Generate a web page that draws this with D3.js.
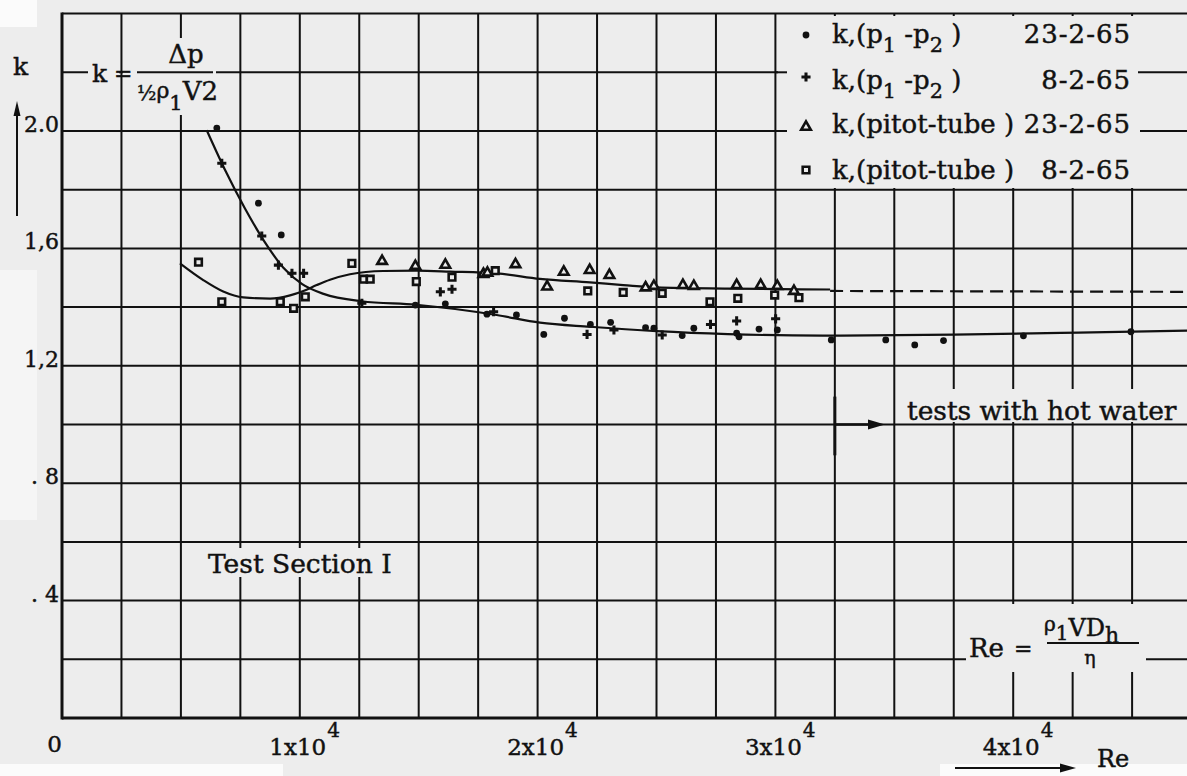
<!DOCTYPE html>
<html><head><meta charset="utf-8">
<script src="https://cdn.jsdelivr.net/npm/d3@7"></script>
<style>
html,body{margin:0;padding:0;background:#ededed;}
svg{display:block;font-family:"DejaVu Serif",serif;}
</style></head><body>
<svg id="chart" width="1187" height="776"></svg>
<script>
// axis ticks
const reTicks = [0, 10000, 20000, 30000, 40000];
const reTickLabels = ['0', '1x10', '2x10', '3x10', '4x10'];
const kTicks = [0.4, 0.8, 1.2, 1.6, 2.0];
const kTickLabels = ['. 4', '. 8', '1,2', '1,6', '2.0'];

// k,(p1-p2) 23-2-65  (dots)
const dp23 = [
  [6510, 2.01], [8260, 1.754], [9220, 1.646], [14860, 1.407], [16120, 1.411],
  [17870, 1.376], [19110, 1.373], [20260, 1.307], [21130, 1.362], [22220, 1.341],
  [23070, 1.348], [24540, 1.330], [24890, 1.328], [26080, 1.303], [26570, 1.328],
  [28370, 1.311], [28470, 1.299], [29310, 1.325], [30080, 1.322],
  [32350, 1.288], [34640, 1.288], [35860, 1.271], [37070, 1.286], [40430, 1.302], [44950, 1.316]
];
// k,(p1-p2) 8-2-65  (plus)
const dp08 = [
  [6720, 1.89], [8400, 1.642], [9100, 1.543], [9670, 1.515], [10160, 1.515],
  [12610, 1.413], [15910, 1.452], [16400, 1.461], [18150, 1.384], [22080, 1.307],
  [23210, 1.322], [25240, 1.305], [27270, 1.341], [28370, 1.353], [30010, 1.36]
];
// k,(pitot-tube) 23-2-65  (triangles)
const pt23 = [
  [13460, 1.560], [14860, 1.543], [16120, 1.547], [17720, 1.516], [17890, 1.52],
  [19070, 1.549], [20400, 1.473], [21100, 1.523], [22190, 1.529], [23020, 1.512],
  [24540, 1.470], [24890, 1.475], [26110, 1.478], [26570, 1.475], [28370, 1.478],
  [29380, 1.478], [30080, 1.475], [30780, 1.458]
];
// k,(pitot-tube) 8-2-65  (squares)
const pt08 = [
  [5740, 1.553], [6720, 1.418], [9180, 1.418], [9740, 1.396], [10230, 1.435],
  [12190, 1.549], [12680, 1.495], [12960, 1.495], [14900, 1.487], [16400, 1.502],
  [18220, 1.524], [22110, 1.455], [23600, 1.450], [25240, 1.447], [27250, 1.418],
  [28420, 1.430], [29970, 1.441], [30990, 1.432]
];

// hand-drawn fit curves
const fitDp = [
  [6085, 2.003], [6900, 1.860], [7700, 1.735], [8500, 1.625], [9300, 1.535],
  [10100, 1.478], [11000, 1.445], [12600, 1.420], [14900, 1.408], [18280, 1.373],
  [20100, 1.347], [22200, 1.333], [25010, 1.318], [28000, 1.308], [32000, 1.303],
  [37500, 1.306], [42000, 1.312], [47500, 1.320]
];
const fitPitot = [
  [4960, 1.549], [5940, 1.492], [6780, 1.453], [7620, 1.433], [8750, 1.429],
  [9590, 1.440], [10150, 1.455], [10710, 1.475], [11270, 1.493], [12110, 1.512],
  [13510, 1.523], [14915, 1.524], [16320, 1.521], [18280, 1.515], [20100, 1.496],
  [22200, 1.484], [23600, 1.475], [25010, 1.467], [28000, 1.463], [32300, 1.460]
];
const fitPitotExt = [[32300, 1.455], [47500, 1.452]];

const legendLabels = [
  [['k,(p'], ['1', 9], [' -p'], ['2', 9], [' )']],
  [['k,(p'], ['1', 9], [' -p'], ['2', 9], [' )']],
  [['k,(pitot-tube )']],
  [['k,(pitot-tube )']]
];
const legendDates = ['23-2-65', '8-2-65', '23-2-65', '8-2-65'];
const legendSymbols = ['dot', 'plus', 'tri', 'sq'];

const BG = '#ededed', INK = '#111';
const svg = d3.select('#chart');
const x = d3.scaleLinear().domain([0, 47500]).range([62, 62 + 47500 * 0.02378]);
const y = d3.scaleLinear().domain([0, 2.4]).range([718, 13.6]);

svg.append('rect').attr('width', 1187).attr('height', 776).attr('fill', BG);
// paper patches of the scan
[[0, 0, 37, 27, '#fbfbfb'], [0, 270, 37, 250, '#f5f5f5'], [0, 764, 283, 12, '#fbfbfb'], [940, 764, 247, 12, '#fbfbfb']]
  .forEach(r => svg.append('rect').attr('x', r[0]).attr('y', r[1]).attr('width', r[2]).attr('height', r[3]).attr('fill', r[4]));

const grid = svg.append('g').attr('stroke', INK).attr('stroke-width', 2);
d3.range(2500, 47501, 2500).forEach(v => grid.append('line')
  .attr('x1', x(v)).attr('x2', x(v)).attr('y1', y(2.4)).attr('y2', y(0)));
d3.range(0.2, 2.41, 0.2).forEach(v => grid.append('line')
  .attr('x1', x(0)).attr('x2', 1187).attr('y1', y(v)).attr('y2', y(v)));
svg.append('line').attr('x1', x(0)).attr('x2', x(0)).attr('y1', y(2.4) - 1).attr('y2', y(0) + 1.5)
  .attr('stroke', INK).attr('stroke-width', 3);
svg.append('line').attr('x1', x(0)).attr('x2', 1187).attr('y1', y(0)).attr('y2', y(0))
  .attr('stroke', INK).attr('stroke-width', 3);

// boxes behind the labels (grid is interrupted there)
const boxes = [[88, 60, 31, 24], [123, 38, 93, 77], [204, 548, 194, 29], [900, 389, 287, 33], [966, 604, 180, 68], [778, 16, 409, 172]];
boxes.forEach(b => svg.append('rect').attr('x', b[0]).attr('y', b[1]).attr('width', b[2]).attr('height', b[3]).attr('fill', BG));
[[2.2, 775, 787], [2.2, 1138, 1187], [2.0, 775, 787], [2.0, 1140, 1187]].forEach(s =>
  svg.append('line').attr('x1', s[1]).attr('x2', s[2]).attr('y1', y(s[0])).attr('y2', y(s[0]))
    .attr('stroke', INK).attr('stroke-width', 2));

// curves
const line = d3.line().x(d => x(d[0])).y(d => y(d[1])).curve(d3.curveMonotoneX);
svg.append('path').attr('d', line(fitDp)).attr('fill', 'none').attr('stroke', INK).attr('stroke-width', 2.2);
svg.append('path').attr('d', line(fitPitot)).attr('fill', 'none').attr('stroke', INK).attr('stroke-width', 2.2);
svg.append('path').attr('d', d3.line().x(d => x(d[0])).y(d => y(d[1]))(fitPitotExt))
  .attr('fill', 'none').attr('stroke', INK).attr('stroke-width', 2.2).attr('stroke-dasharray', '13,7');

// markers
function marker(g, kind, cx, cy) {
  if (kind === 'dot') return g.append('circle').attr('cx', cx).attr('cy', cy).attr('r', 3.4).attr('fill', INK);
  if (kind === 'plus') return g.append('path').attr('transform', `translate(${cx},${cy})`)
    .attr('d', d3.symbol(d3.symbolCross, 46)()).attr('fill', INK);
  const sym = kind === 'tri' ? d3.symbol(d3.symbolTriangle, 40)() : d3.symbol(d3.symbolSquare, 44)();
  return g.append('path').attr('transform', `translate(${cx},${cy + (kind === 'tri' ? 1 : 0)})`).attr('d', sym)
    .attr('fill', BG).attr('stroke', INK).attr('stroke-width', 2.6);
}
const pts = svg.append('g');
[[pt08, 'sq'], [pt23, 'tri'], [dp08, 'plus'], [dp23, 'dot']].forEach(([data, kind]) =>
  data.forEach(d => marker(pts, kind, x(d[0]), y(d[1]))));

// text helper with sub/superscripts: parts = [text, dy, size]
function rich(px, py, parts, size, anchor, spacing) {
  const t = svg.append('text').attr('x', px).attr('y', py).attr('font-size', size)
    .attr('fill', INK).attr('stroke', INK).attr('stroke-width', 0.45)
    .attr('text-anchor', anchor || 'start');
  if (spacing) t.attr('letter-spacing', spacing);
  let cur = 0;
  parts.forEach(p => {
    const off = p[1] || 0;
    t.append('tspan').attr('dy', off - cur).attr('font-size', p[2] || (off ? size * 0.8 : size)).text(p[0]);
    cur = off;
  });
  return t;
}

// tick labels
kTicks.forEach((v, i) => rich(59, y(v) + 1, [[kTickLabels[i]]], 22, 'end'));
reTicks.forEach((v, i) => {
  if (v === 0) { rich(x(0), 752, [['0']], 23, 'end'); return; }
  const t = rich(x(v) - 2, 755, [[reTickLabels[i]]], 23, 'middle');
  const w = t.node().getComputedTextLength();
  rich(x(v) - 2 + w / 2 + 1, 737, [['4']], 20);
});

// axis titles
rich(13, 75, [['k']], 25);
svg.append('line').attr('x1', 17).attr('x2', 17).attr('y1', 216).attr('y2', 112).attr('stroke', INK).attr('stroke-width', 2);
svg.append('path').attr('d', d3.line()([[17, 101], [13.5, 116], [20.5, 116]])).attr('fill', INK);
svg.append('line').attr('x1', 955).attr('x2', 1062).attr('y1', 768).attr('y2', 768).attr('stroke', INK).attr('stroke-width', 2);
svg.append('path').attr('d', d3.line()([[1076, 768], [1060, 763.5], [1060, 772.5]])).attr('fill', INK);
rich(1097, 767, [['Re']], 24);

// k = Δp / (½ ρ1 V2)
rich(92, 82, [['k']], 25);
rich(114, 81, [['=']], 22);
rich(186, 63, [['Δp']], 26, 'middle');
svg.append('line').attr('x1', 137).attr('x2', 213).attr('y1', y(2.2)).attr('y2', y(2.2)).attr('stroke', INK).attr('stroke-width', 2);
rich(137, 100, [['½', 0, 20], ['ρ', -2, 22], ['1', 10, 21], ['V2', 0, 26]], 26);

// Re = ρ1 V Dh / η
rich(969, 657, [['Re']], 26);
rich(1014, 656, [['=']], 22);
svg.append('line').attr('x1', 1047).attr('x2', 1139).attr('y1', 643).attr('y2', 643).attr('stroke', INK).attr('stroke-width', 2);
rich(1044, 631, [['ρ', 0, 20], ['1', 9, 20], ['VD', 5, 24], ['h', 12, 22]], 24);
rich(1090, 664, [['η']], 19, 'middle');

// annotations
rich(208, 573, [['Test Section I']], 26.5);
rich(907, 420, [['tests with hot water']], 26.5);
svg.append('line').attr('x1', x(32500)).attr('x2', x(32500)).attr('y1', y(1.095)).attr('y2', y(0.895))
  .attr('stroke', INK).attr('stroke-width', 3);
svg.append('line').attr('x1', x(32500)).attr('x2', 872).attr('y1', y(1.0)).attr('y2', y(1.0)).attr('stroke', INK).attr('stroke-width', 2.5);
svg.append('path').attr('d', d3.line()([[885, y(1.0)], [868, y(1.0) - 5], [868, y(1.0) + 5]])).attr('fill', INK);

// legend
const rowY = [43, 89, 133, 179];
const symY = [35, 77, 126, 170];
legendSymbols.forEach((s, i) => {
  marker(svg, s, 806, symY[i]);
  rich(832, rowY[i], legendLabels[i], 26);
  rich(1131, rowY[i], [[legendDates[i]]], 26, 'end', 1);
});
</script>
</body></html>
